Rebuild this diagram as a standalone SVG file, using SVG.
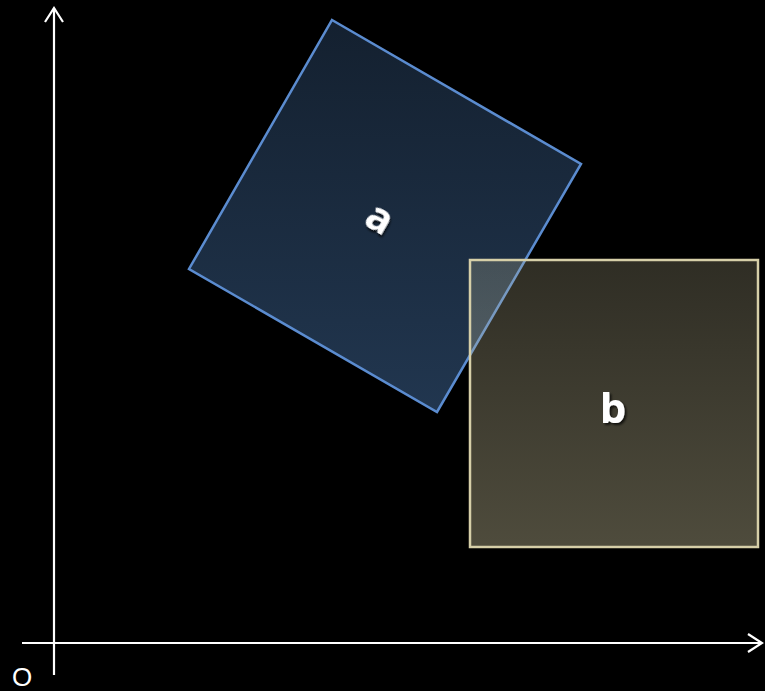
<svg xmlns="http://www.w3.org/2000/svg" width="765" height="691" viewBox="0 0 765 691">
<defs>
<linearGradient id="ga" gradientUnits="userSpaceOnUse" x1="0" y1="20" x2="0" y2="412">
<stop offset="0" stop-color="#4f81bd" stop-opacity="0.25"/>
<stop offset="1" stop-color="#4f81bd" stop-opacity="0.42"/>
</linearGradient>
<linearGradient id="gb" gradientUnits="userSpaceOnUse" x1="0" y1="260" x2="0" y2="547">
<stop offset="0" stop-color="#c4bd97" stop-opacity="0.24"/>
<stop offset="1" stop-color="#c4bd97" stop-opacity="0.40"/>
</linearGradient>
<filter id="shadow" x="-30%" y="-30%" width="160%" height="160%">
<feDropShadow dx="2" dy="2" stdDeviation="1" flood-color="#000000" flood-opacity="0.7"/>
</filter>
<marker id="arr" viewBox="0 0 20 20" refX="18" refY="10" markerWidth="20" markerHeight="20" markerUnits="userSpaceOnUse" orient="auto">
<path d="M4,1 L18,10 L4,19" fill="none" stroke="#ffffff" stroke-width="2.2"/>
</marker>
<style>
.lbl{font-family:"Open Sans","Liberation Sans",sans-serif;font-weight:bold;font-size:42px;fill:#ffffff;text-anchor:middle;filter:url(#shadow)}
.axis{stroke:#ffffff;stroke-width:2.2;fill:none}
</style>
</defs>
<rect width="765" height="691" fill="#000000"/>
<g id="connectors">
<line class="axis" x1="54" y1="675" x2="54" y2="8" marker-end="url(#arr)"/>
<line class="axis" x1="22" y1="643" x2="762" y2="643" marker-end="url(#arr)"/>
</g>
<g id="origin">
<text x="22" y="686" font-family="Liberation Sans, sans-serif" font-size="26" fill="#ffffff" text-anchor="middle">O</text>
</g>
<g id="a">
<polygon points="332,20 581,164 437,412 189,269" fill="url(#ga)" stroke="#5b8cd0" stroke-width="2.5" stroke-linejoin="miter"/>
<text class="lbl" transform="translate(380,218) rotate(30)" x="0" y="14">a</text>
</g>
<g id="b">
<rect x="470" y="260" width="288" height="287" fill="url(#gb)" stroke="#d6cfa8" stroke-width="2.5"/>
<text class="lbl" x="613" y="423">b</text>
</g>
</svg>
